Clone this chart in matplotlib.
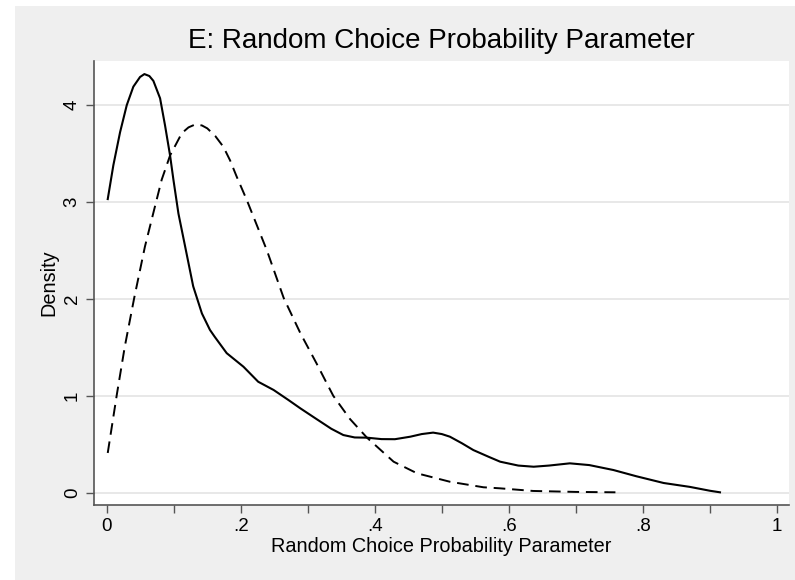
import matplotlib
matplotlib.use("Agg")
import matplotlib.pyplot as plt
from matplotlib.patches import Rectangle

plt.rcParams['font.family'] = ['Liberation Sans', 'DejaVu Sans']

# solid density curve
solid_x = [0.0015, 0.0099, 0.0199, 0.0299, 0.0397, 0.0497, 0.0562, 0.0636, 0.0696, 0.0796,
           0.087, 0.0945, 0.0995, 0.107, 0.117, 0.129, 0.142, 0.154, 0.161, 0.179,
           0.204, 0.226, 0.249, 0.271, 0.289, 0.313, 0.335, 0.353, 0.370, 0.388,
           0.410, 0.430, 0.453, 0.470, 0.487, 0.500, 0.512, 0.530, 0.547, 0.570,
           0.587, 0.614, 0.637, 0.660, 0.691, 0.720, 0.756, 0.790, 0.831, 0.870,
           0.900, 0.915]
solid_y = [3.03, 3.38, 3.72, 4.00, 4.19, 4.29, 4.32, 4.30, 4.25, 4.07,
           3.79, 3.48, 3.23, 2.88, 2.54, 2.13, 1.85, 1.68, 1.61, 1.44,
           1.30, 1.145, 1.06, 0.957, 0.87, 0.76, 0.66, 0.595, 0.57, 0.568,
           0.553, 0.552, 0.578, 0.605, 0.62, 0.605, 0.578, 0.51, 0.44, 0.37,
           0.32, 0.28, 0.268, 0.28, 0.303, 0.285, 0.234, 0.17, 0.10, 0.06,
           0.02, 0.004]

# dashed density curve
dash_x = [0.0015, 0.015, 0.027, 0.041, 0.057, 0.070, 0.082, 0.0945, 0.112, 0.122,
          0.132, 0.142, 0.150, 0.162, 0.174, 0.184, 0.194, 0.209, 0.239, 0.264,
          0.289, 0.313, 0.326, 0.338, 0.363, 0.388, 0.428, 0.463, 0.512, 0.562,
          0.587, 0.636, 0.700, 0.759]
dash_y = [0.41, 1.01, 1.51, 2.01, 2.54, 2.90, 3.23, 3.48, 3.71, 3.77,
          3.80, 3.79, 3.76, 3.68, 3.57, 3.43, 3.26, 3.02, 2.50, 2.01,
          1.645, 1.335, 1.16, 1.00, 0.76, 0.57, 0.32, 0.20, 0.113, 0.056,
          0.045, 0.018, 0.008, 0.004]

x_ticks = [0, 0.1, 0.2, 0.3, 0.4, 0.5, 0.6, 0.7, 0.8, 0.9, 1.0]
x_labels = ['0', '', '.2', '', '.4', '', '.6', '', '.8', '', '1']
y_ticks = [0, 1, 2, 3, 4]

W, H = 795, 580
fig = plt.figure(figsize=(W / 100, H / 100), dpi=100, facecolor='white')
# grey graph region, leaving a thin white strip at left and top
fig.patches.append(Rectangle((15 / W, 0), 1 - 15 / W, 1 - 6 / H,
                             transform=fig.transFigure, facecolor='#efefef',
                             edgecolor='none', zorder=-10))

ax = fig.add_axes([94 / W, 75 / H, 695 / W, 444 / H])
ax.set_facecolor('white')

ax.plot(solid_x, solid_y, color='black', lw=1.5, solid_joinstyle='round')
ax.plot(dash_x, dash_y, color='black', lw=1.4, dashes=(6, 3.5))

ax.set_xlim(-0.019, 1.018)
ax.set_ylim(-0.127, 4.455)
ax.set_xticks(x_ticks)
ax.set_xticklabels(x_labels)
ax.set_yticks(y_ticks)
ax.set_yticklabels([str(v) for v in y_ticks], rotation=90, va='center')

for y in y_ticks:
    ax.axhline(y, color='#e4e4e4', lw=1.2, zorder=0)

for side in ['top', 'right']:
    ax.spines[side].set_visible(False)
for side in ['left', 'bottom']:
    ax.spines[side].set_color('#555555')
    ax.spines[side].set_linewidth(1.2)

ax.tick_params(axis='both', colors='#555555', length=5.5, width=1, labelsize=13.5,
               labelcolor='black', pad=4)

ax.set_xlabel('Random Choice Probability Parameter', fontsize=14.3, labelpad=1)
ax.set_ylabel('Density', fontsize=14.3, labelpad=4)
ax.set_title('E: Random Choice Probability Parameter', fontsize=20, pad=9)

fig.savefig('out.png', dpi=100, facecolor=fig.get_facecolor())
